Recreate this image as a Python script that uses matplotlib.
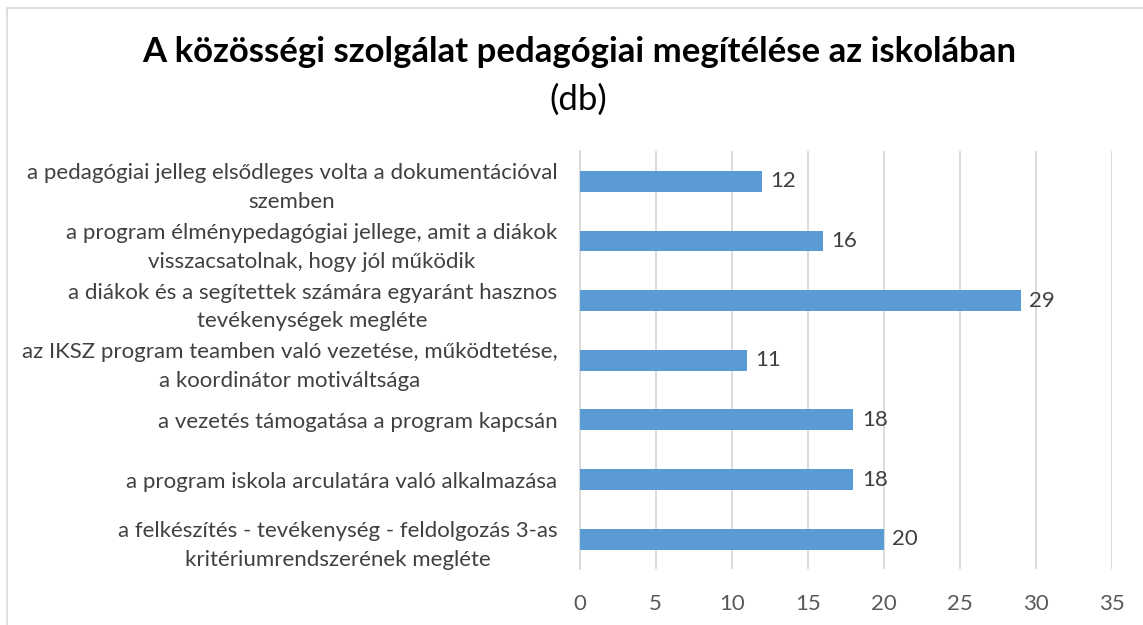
import matplotlib
matplotlib.use("Agg")
import matplotlib.pyplot as plt
from matplotlib.patches import Rectangle

categories = [
    "a pedagógiai jelleg elsődleges volta a dokumentációval\nszemben",
    "a program élménypedagógiai jellege, amit a diákok\nvisszacsatolnak, hogy jól működik",
    "a diákok és a segítettek számára egyaránt hasznos\ntevékenységek megléte",
    "az IKSZ program teamben való vezetése, működtetése,\na koordinátor motiváltsága",
    "a vezetés támogatása a program kapcsán",
    "a program iskola arculatára való alkalmazása",
    "a felkészítés - tevékenység - feldolgozás 3-as\nkritériumrendszerének megléte",
]
values = [12, 16, 29, 11, 18, 18, 20]
xticks = [0, 5, 10, 15, 20, 25, 30, 35]

plt.rcParams['font.family'] = ['Lato', 'DejaVu Sans']

fig = plt.figure(figsize=(11.43, 6.25), dpi=100)
ax = fig.add_axes([0.507, 0.0896, 0.466, 0.668])

ypos = list(range(len(categories)))
ax.barh(ypos, values, height=0.35, color='#5B9BD5', zorder=3)
ax.set_ylim(len(categories) - 0.5, -0.5)
ax.set_xlim(0, 35)
ax.set_xticks(xticks)
ax.set_xticklabels([str(t) for t in xticks], fontsize=16, color='#595959')
ax.set_yticks(ypos)
ax.set_yticklabels(categories, fontsize=16, color='#404040',
                   multialignment='center', linespacing=1.55)
ax.tick_params(axis='both', length=0)
ax.tick_params(axis='x', pad=18)
ax.tick_params(axis='y', pad=16)
ax.grid(axis='x', color='#D9D9D9', linewidth=1.3, zorder=0)
for s in ['top', 'right', 'bottom']:
    ax.spines[s].set_visible(False)
ax.spines['left'].set_color('#D9D9D9')
ax.spines['left'].set_linewidth(1.3)

for y, v in zip(ypos, values):
    ax.annotate(str(v), (v, y), xytext=(6, 0), textcoords='offset points',
                va='center', ha='left', fontsize=16, color='#404040')

fig.text(579 / 1143, 1 - 52 / 625, "A közösségi szolgálat pedagógiai megítélése az iskolában",
         ha='center', va='center', fontsize=25, fontweight='bold', color='#000000')
fig.text(578 / 1143, 1 - 100 / 625, "(db)", ha='center', va='center', fontsize=25, color='#000000')

fig.patches.append(Rectangle((7 / 1143, -0.01), 1.1, 1 - 8 / 625 + 0.01,
                             transform=fig.transFigure, fill=False,
                             edgecolor='#D9D9D9', linewidth=1.2))

fig.savefig("out.png", dpi=100)
